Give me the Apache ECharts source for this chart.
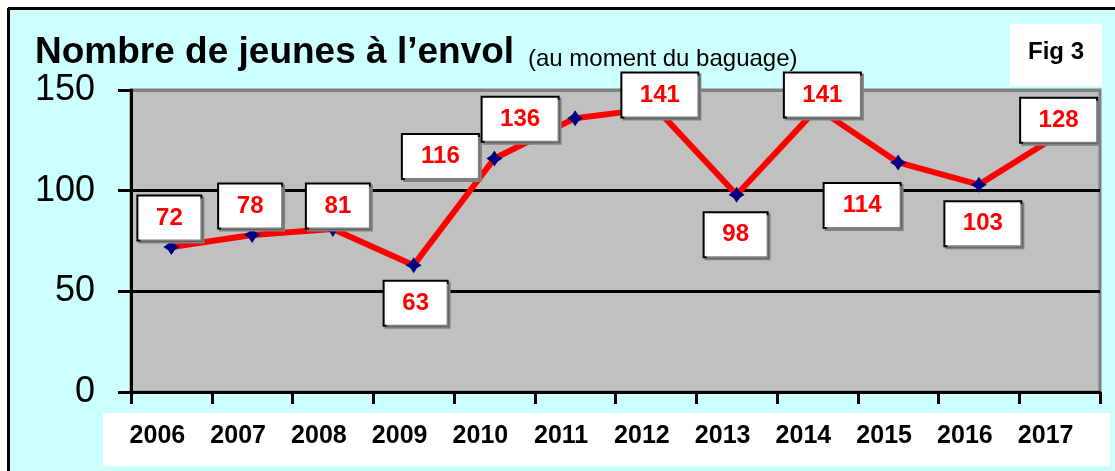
<!DOCTYPE html>
<html>
<head>
<meta charset="utf-8">
<script src="https://cdn.jsdelivr.net/npm/echarts@6/dist/echarts.min.js"></script>
<style>
  html, body { margin: 0; padding: 0; background: #fff; }
  #chartDiv { width: 1115px; height: 471px; }
</style>
</head>
<body>
<div id="chartDiv"></div>
<script>
// données
var annees = ['2006', '2007', '2008', '2009', '2010', '2011', '2012', '2013', '2014', '2015', '2016', '2017'];
var jeunes = [72, 78, 81, 63, 116, 136, 141, 98, 141, 114, 103, 128];
var yMin = 0, yMax = 150, yPas = 50;

var titre = 'Nombre de jeunes à l’envol';
var sousTitre = '(au moment du baguage)';
var figure = 'Fig 3';

// placement des étiquettes (décalage par rapport au point)
var decalages = [[-2, -29], [-2, -29], [5, -23], [2, 38], [-54, -2], [-55, 1],
                 [4, -13], [-1, 40], [5, -13], [-36, 43], [4, 39], [-1, -14]];

var arial = "'Liberation Sans', Arial, sans-serif";

var chartDiv = echarts.init(document.getElementById('chartDiv'));

// largeur de la boîte selon le nombre de chiffres
var seriesData = jeunes.map(function (v, i) {
    var w = String(v).length > 2 ? 75 : 62;
    return { value: v, label: { offset: decalages[i], width: w } };
});

var option = {
    backgroundColor: '#CCFFFF',
    animation: false,
    grid: {
        left: 131, right: 15, top: 90, bottom: 79,
        show: true,
        backgroundColor: '#C0C0C0',
        borderColor: '#808080',
        borderWidth: 3
    },
    xAxis: {
        type: 'category',
        data: annees,
        boundaryGap: true,
        axisLine: { lineStyle: { color: '#000', width: 3 } },
        axisTick: { show: true, interval: 0, length: 12, lineStyle: { color: '#000', width: 3 } },
        axisLabel: {
            interval: 0, margin: 32, color: '#000', fontSize: 25, fontWeight: 'bold',
            fontFamily: arial, padding: [0, 28, 0, 0]
        },
        splitLine: { show: false }
    },
    yAxis: {
        type: 'value',
        min: yMin, max: yMax, interval: yPas,
        axisLine: { show: true, lineStyle: { color: '#000', width: 3 } },
        axisTick: { show: true, length: 13, lineStyle: { color: '#000', width: 3 } },
        axisLabel: { margin: 36, color: '#000', fontSize: 36, fontFamily: arial },
        splitLine: { show: true, lineStyle: { color: ['#000', '#000', '#000', '#808080'], width: 3 } }
    },
    series: [
        {
            type: 'line',
            data: seriesData,
            lineStyle: { color: '#FF0000', width: 6 },
            itemStyle: { color: '#000080' },
            symbol: 'path://M0,-1 L0.4,-0.4 L1,0 L0.4,0.4 L0,1 L-0.4,0.4 L-1,0 L-0.4,-0.4 Z',
            symbolSize: 16,
            showAllSymbol: true,
            label: {
                show: true,
                position: 'inside',
                color: '#FF0000',
                fontSize: 24,
                fontWeight: 'bold',
                fontFamily: arial,
                lineHeight: 23,
                align: 'center',
                backgroundColor: '#FFFFFF',
                borderColor: '#000',
                borderWidth: 2,
                padding: [10, 0, 10, 0],
                shadowColor: '#808080',
                shadowOffsetX: 2,
                shadowOffsetY: 2,
                shadowBlur: 0
            },
            z: 3
        }
    ],
    graphic: [
        // cadre extérieur
        { type: 'rect', z: -1, shape: { x: 0, y: 0, width: 1115, height: 7 }, style: { fill: '#fff' } },
        { type: 'rect', z: -1, shape: { x: 0, y: 0, width: 7, height: 471 }, style: { fill: '#fff' } },
        { type: 'line', shape: { x1: 8, y1: 8.5, x2: 1115, y2: 8.5 }, style: { stroke: '#000', lineWidth: 3 } },
        { type: 'line', shape: { x1: 8.5, y1: 8, x2: 8.5, y2: 471 }, style: { stroke: '#000', lineWidth: 3 } },
        // bande blanche des années
        { type: 'rect', z: -1, shape: { x: 103, y: 413, width: 1007, height: 53 }, style: { fill: '#fff' } },
        // titres
        { type: 'text', x: 35, y: 53, style: { text: titre, fill: '#000', font: 'bold 37px ' + arial, textVerticalAlign: 'middle' } },
        { type: 'text', x: 528, y: 59, style: { text: sousTitre, fill: '#000', font: '24px ' + arial, textVerticalAlign: 'middle' } },
        // encadré Fig 3
        { type: 'rect', shape: { x: 1010, y: 24, width: 92, height: 62 }, style: { fill: '#fff' } },
        { type: 'text', x: 1056, y: 52, style: { text: figure, fill: '#000', font: 'bold 24px ' + arial, textAlign: 'center', textVerticalAlign: 'middle' } }
    ]
};

chartDiv.setOption(option);
</script>
</body>
</html>
